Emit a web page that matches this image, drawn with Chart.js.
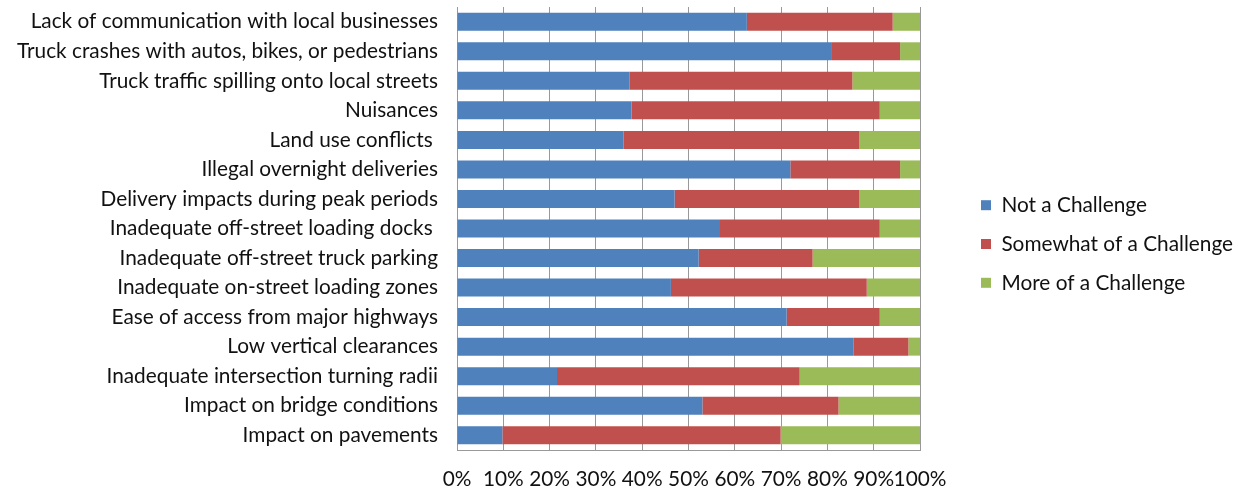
<!DOCTYPE html>
<html>
<head>
<meta charset="utf-8">
<title>Freight challenges</title>
<script src="https://cdn.jsdelivr.net/npm/chart.js@4/dist/chart.umd.min.js"></script>
<style>
  html, body { margin: 0; padding: 0; background: #fff; }
  #wrap { width: 1238px; height: 489px; }
</style>
</head>
<body>
<div id="wrap"><canvas id="chart"></canvas></div>
<script>
// categories, top to bottom
const issues = [
  "Lack of communication with local businesses",
  "Truck crashes with autos, bikes, or pedestrians",
  "Truck traffic spilling onto local streets",
  "Nuisances",
  "Land use conflicts ",
  "Illegal overnight deliveries",
  "Delivery impacts during peak periods",
  "Inadequate off-street loading docks ",
  "Inadequate off-street truck parking",
  "Inadequate on-street loading zones",
  "Ease of access from major highways",
  "Low vertical clearances",
  "Inadequate intersection turning radii",
  "Impact on bridge conditions",
  "Impact on pavements"
];

// share of answers, percent
const notAChallenge = [62.6, 80.8, 37.3, 37.7, 36.0, 72.0, 47.0, 56.6, 52.2, 46.2, 71.2, 85.6, 21.6, 53.0, 9.8];
const somewhatChallenge = [31.5, 14.9, 48.1, 53.6, 50.9, 23.7, 39.9, 34.7, 24.6, 42.3, 20.1, 11.9, 52.4, 29.4, 60.1];
const moreChallenge = [5.9, 4.3, 14.6, 8.7, 13.1, 4.3, 13.1, 8.7, 23.2, 11.5, 8.7, 2.5, 26.0, 17.6, 30.1];

const percentTicks = [0, 10, 20, 30, 40, 50, 60, 70, 80, 90, 100];

const FONT = "Lato";
const FONT_SIZE = 20.8;
const gridColor = "#999";

// legend sits well to the right of the plot
const legendShift = {
  id: "legendShift",
  beforeInit(chart) {
    const fit = chart.legend.fit;
    chart.legend.fit = function () {
      fit.call(this);
      this.width = 318;
    };
  },
  afterLayout(chart) {
    chart.legend.left += 43;
    chart.legend.top -= 8;
  }
};

new Chart(document.getElementById("chart"), {
  type: "bar",
  data: {
    labels: issues,
    datasets: [
      { label: "Not a Challenge", data: notAChallenge, backgroundColor: "#4F81BD" },
      { label: "Somewhat of a Challenge", data: somewhatChallenge, backgroundColor: "#C0504D" },
      { label: "More of a Challenge", data: moreChallenge, backgroundColor: "#9BBB59" }
    ]
  },
  options: {
    indexAxis: "y",
    responsive: true,
    maintainAspectRatio: false,
    animation: false,
    barPercentage: 0.61,
    categoryPercentage: 1,
    layout: { padding: { top: 7, left: 0, right: 0, bottom: 0 } },
    scales: {
      x: {
        stacked: true,
        min: 0,
        max: 100,
        afterBuildTicks(scale) {
          scale.ticks = percentTicks.map((v) => ({ value: v }));
        },
        afterFit(scale) {
          scale.height = 39;
        },
        grid: { color: gridColor, drawTicks: false },
        border: { color: gridColor },
        ticks: {
          padding: 17,
          autoSkip: false,
          minRotation: 0,
          maxRotation: 0,
          color: "#111",
          font: { family: FONT, size: FONT_SIZE },
          callback: (v) => v + "%"
        }
      },
      y: {
        stacked: true,
        afterFit(scale) {
          scale.width = 457;
          // labels sit inside the bands, no extra room above/below
          scale.paddingTop = 0;
          scale.paddingBottom = 0;
        },
        grid: { display: false, drawTicks: false },
        border: { color: gridColor },
        ticks: {
          padding: 19,
          autoSkip: false,
          color: "#111",
          font: { family: FONT, size: FONT_SIZE }
        }
      }
    },
    plugins: {
      tooltip: { enabled: false },
      legend: {
        position: "right",
        labels: {
          boxWidth: 10,
          boxHeight: 10,
          padding: 18,
          color: "#111",
          font: { family: FONT, size: FONT_SIZE }
        }
      }
    }
  },
  plugins: [legendShift]
});
</script>
</body>
</html>
